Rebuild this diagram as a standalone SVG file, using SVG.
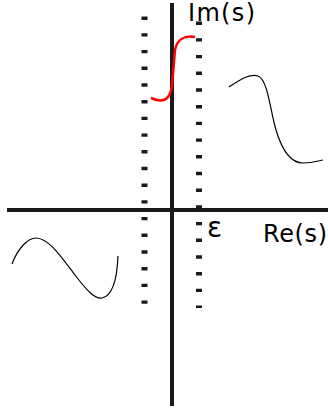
<svg xmlns="http://www.w3.org/2000/svg" width="328" height="408" viewBox="0 0 328 408">
<style>
.axis{stroke:#1a1a1a;stroke-width:4;fill:none}
.dots{stroke:#1a1a1a;stroke-width:6;stroke-dasharray:3.4 13.3;fill:none}
.curve{stroke:#000;stroke-width:1.2;fill:none}
.red{stroke:#ff0000;stroke-width:2.5;fill:none}
.lbl{font-family:"DejaVu Sans",Verdana,sans-serif;font-size:24px;fill:#000}
</style>
<rect width="328" height="408" fill="#fff"/>
<g id="axes">
<line class="axis" x1="172" y1="3" x2="172" y2="406"/>
<line class="axis" x1="7" y1="210" x2="328" y2="210"/>
</g>
<g id="boundaries">
<line class="dots" x1="144.5" y1="16.5" x2="144.5" y2="305"/>
<line class="dots" x1="199" y1="21.5" x2="199" y2="308"/>
</g>
<g id="contour">
<path class="red" d="M151,98 C162,103 170,101 172,86 L175,50 C177,40 184,35 195,37"/>
</g>
<g id="curves">
<path class="curve" d="M229,87 C240,80 250,73 258,76 C268,80 270,110 276,130 C282,150 290,163 303,163 C312,163 318,161 323,160"/>
<path class="curve" d="M12,264 C18,248 28,238 36,238 C48,238 60,255 75,275 C88,292 95,299 102,298 C112,296 117,280 118,256"/>
</g>
<g id="labels">
<text class="lbl" x="188" y="21" textLength="67" lengthAdjust="spacing">Im(s)</text>
<text class="lbl" x="263" y="242" textLength="64" lengthAdjust="spacing">Re(s)</text>
<text class="lbl" x="207" y="237" style="font-size:28px">ε</text>
</g>
</svg>
